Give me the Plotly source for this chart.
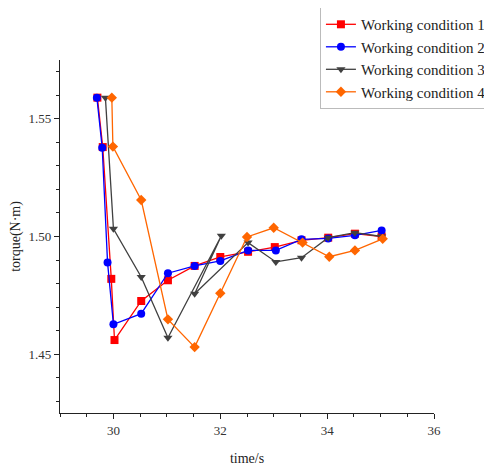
import plotly.graph_objects as go

names = ["Working condition 1", "Working condition 2", "Working condition 3", "Working condition 4"]

x1 = [29.7, 29.8, 29.96, 30.02, 30.52, 31.02, 31.52, 32.0, 32.52, 33.02, 33.52, 34.02, 34.52, 35.02]
y1 = [1.559, 1.538, 1.482, 1.456, 1.4726, 1.4814, 1.4875, 1.4913, 1.4935, 1.4955, 1.4984, 1.4995, 1.5012, 1.5000]

x2 = [29.69, 29.79, 29.89, 30.0, 30.52, 31.02, 31.52, 32.0, 32.52, 33.04, 33.52, 34.02, 34.52, 35.02]
y2 = [1.559, 1.5377, 1.4889, 1.4627, 1.4672, 1.4844, 1.4875, 1.4896, 1.4941, 1.4941, 1.4988, 1.4992, 1.5005, 1.5026]

x3 = [29.85, 30.0, 30.52, 31.02, 32.02, 31.52, 32.52, 33.04, 33.52, 34.02, 34.52, 35.02]
y3 = [1.559, 1.5033, 1.4828, 1.457, 1.5003, 1.4757, 1.4974, 1.4892, 1.491, 1.4995, 1.5016, 1.5000]

x4 = [29.97, 29.99, 30.52, 31.02, 31.52, 32.0, 32.5, 33.0, 33.54, 34.04, 34.52, 35.04]
y4 = [1.559, 1.5382, 1.5155, 1.4648, 1.453, 1.4759, 1.4998, 1.5037, 1.4974, 1.4914, 1.4941, 1.499]

colors = ["#ff0000", "#0000ff", "#404040", "#ff6600"]
symbols = ["square", "circle", "triangle-down", "diamond"]
series = [(x1, y1), (x2, y2), (x3, y3), (x4, y4)]

fig = go.Figure()
for (xs, ys), n, c, s in zip(series, names, colors, symbols):
    fig.add_trace(go.Scatter(
        x=xs, y=ys, name=n, mode="lines+markers",
        line=dict(color=c, width=1.3),
        marker=dict(color=c, symbol=s, size=8),
    ))

font_family = "Liberation Serif, Times New Roman, serif"
axis_common = dict(
    showline=True, linecolor="#222", linewidth=1.2,
    ticks="outside", ticklen=5, tickcolor="#222", tickwidth=1.2,
    showgrid=False, zeroline=False, mirror=False,
    tickfont=dict(family=font_family, size=13, color="#333"),
    minor=dict(ticks="outside", ticklen=3, tickcolor="#222", tickwidth=1.2),
)

fig.update_layout(
    width=492, height=468,
    margin=dict(l=52, r=66, t=52, b=63, autoexpand=False),
    paper_bgcolor="white", plot_bgcolor="white",
    font=dict(family=font_family, color="#222"),
    xaxis=dict(range=[29, 36], dtick=2, tick0=30,
               title=dict(text="time/s", font=dict(family=font_family, size=14), standoff=16),
               **axis_common),
    yaxis=dict(range=[1.425, 1.575], dtick=0.05, tick0=1.45, tickformat=".2f",
               title=dict(text="torque(N·m)", font=dict(family=font_family, size=14), standoff=8),
               **axis_common),
    legend=dict(
        x=0.695, y=1.150, xanchor="left", yanchor="top",
        bgcolor="white", bordercolor="#bbbbbb", borderwidth=1,
        font=dict(family=font_family, size=15, color="#222"),
        tracegroupgap=0, itemwidth=30,
    ),
)

fig.write_html("out.html")
